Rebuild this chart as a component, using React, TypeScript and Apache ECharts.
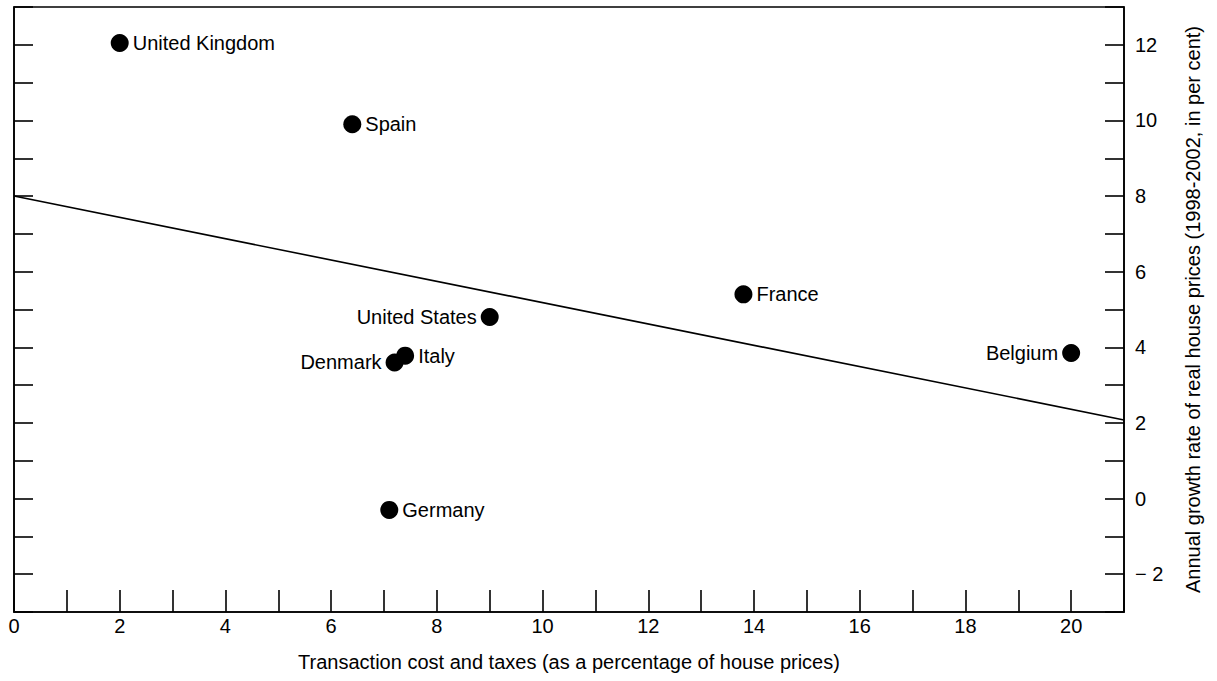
import React, { useEffect, useRef } from "react";
import * as echarts from "echarts";

const countries = ["United Kingdom", "Spain", "France", "United States", "Italy", "Denmark", "Belgium", "Germany"];
const transactionCost = [2.0, 6.4, 13.8, 9.0, 7.4, 7.2, 20.0, 7.1];
const growthRate = [12.05, 9.9, 5.4, 4.8, 3.78, 3.6, 3.85, -0.3];
const labelSide = ["right", "right", "right", "left", "right", "left", "left", "right"];
const trendX = [0, 21];
const trendY = [8.0, 2.08];

const FONT = "Liberation Sans, Arial, Helvetica, sans-serif";
const FS = 20;

export default function App() {
  const ref = useRef<HTMLDivElement>(null);
  useEffect(() => {
    if (!ref.current) return;
    const chart = echarts.init(ref.current, undefined, { renderer: "svg" });
    const axisLineStyle = { color: "#000", width: 1.6 };
    const tickStyle = { color: "#000", width: 1.6 };
    chart.setOption({
      animation: false,
      backgroundColor: "#fff",
      textStyle: { fontFamily: FONT, color: "#000" },
      grid: { left: 14, right: 93, top: 7, bottom: 69, show: true, borderColor: "#000", borderWidth: 1.6, containLabel: false },
      xAxis: {
        type: "value",
        min: 0,
        max: 21,
        interval: 1,
        splitLine: { show: false },
        axisLine: { onZero: false, lineStyle: axisLineStyle },
        axisTick: { inside: true, length: 22, lineStyle: tickStyle },
        axisLabel: {
          color: "#000",
          fontSize: FS,
          fontFamily: FONT,
          margin: 4,
          formatter: (v: number) => (v % 2 === 0 && v <= 20 ? String(v) : ""),
        },
        name: "Transaction cost and taxes (as a percentage of house prices)",
        nameLocation: "middle",
        nameGap: 40,
        nameTextStyle: { color: "#000", fontSize: FS, fontFamily: FONT },
      },
      yAxis: [
        {
          type: "value",
          position: "left",
          min: -3,
          max: 13,
          interval: 1,
          splitLine: { show: false },
          axisLine: { onZero: false, lineStyle: axisLineStyle },
          axisTick: { inside: true, length: 19, lineStyle: tickStyle },
          axisLabel: { show: false },
        },
        {
          type: "value",
          position: "right",
          min: -3,
          max: 13,
          interval: 1,
          splitLine: { show: false },
          axisLine: { show: true, onZero: false, lineStyle: axisLineStyle },
          axisTick: { inside: true, length: 19, lineStyle: tickStyle },
          axisLabel: {
            color: "#000",
            fontSize: FS,
            fontFamily: FONT,
            margin: 11,
            formatter: (v: number) => {
              if (v % 2 !== 0 || v === 13 || v === -3) return "";
              return v < 0 ? "\u2212 " + Math.abs(v) : String(v);
            },
          },
          name: "Annual growth rate of real house prices (1998-2002, in per cent)",
          nameLocation: "middle",
          nameRotate: 90,
          nameGap: 59,
          nameTextStyle: { color: "#000", fontSize: FS, fontFamily: FONT },
        },
      ],
      series: [
        {
          type: "line",
          data: trendX.map((x, i) => [x, trendY[i]]),
          showSymbol: false,
          lineStyle: { color: "#000", width: 1.6 },
          silent: true,
          z: 1,
        },
        {
          type: "scatter",
          symbol: "circle",
          symbolSize: 18,
          itemStyle: { color: "#000", opacity: 1 },
          z: 2,
          data: countries.map((c, i) => ({
            value: [transactionCost[i], growthRate[i]],
            name: c,
            label: {
              show: true,
              position: labelSide[i],
              distance: 4,
              formatter: c,
              color: "#000",
              fontSize: FS,
              fontFamily: FONT,
            },
          })),
        },
      ],
    });
    return () => chart.dispose();
  }, []);
  return (
    <div
      ref={ref}
      style={{ position: "fixed", left: 0, top: 0, width: 1217, height: 681, background: "#fff" }}
    />
  );
}
